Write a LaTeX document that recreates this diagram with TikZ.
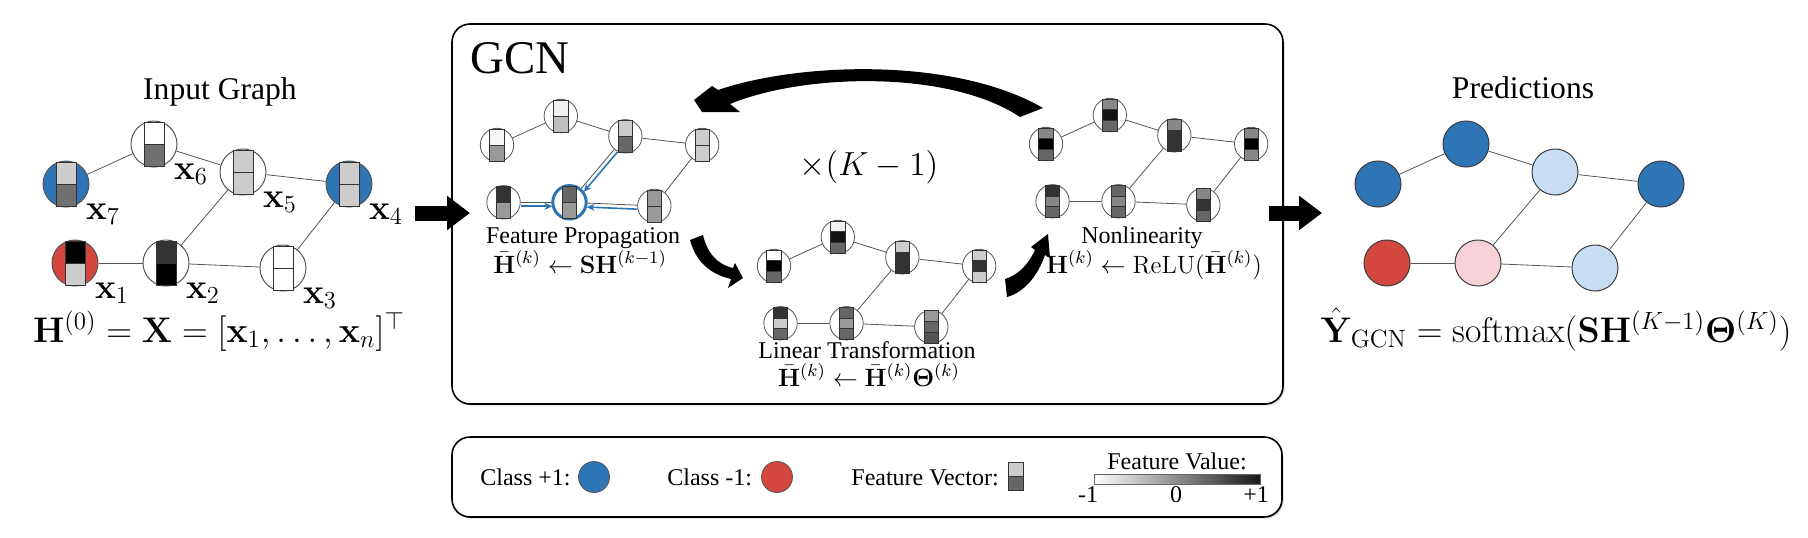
\RequirePackage{fix-cm}
\documentclass[tikz,border=0pt]{standalone}
\usepackage{amsmath}
\usepackage[no-math]{fontspec}
\setmainfont{Liberation Serif}
\definecolor{gcnBlue}{HTML}{2E75B6}
\definecolor{gcnRed}{HTML}{D3473E}
\definecolor{gcnLightBlue}{HTML}{C6DDF3}
\definecolor{gcnPink}{HTML}{F7D1D7}
\definecolor{gcnGrey}{HTML}{555555}
\usetikzlibrary{arrows.meta, calc, shadows}
\tikzset{
    panel/.style={rectangle, draw=black, line width=0.8pt, rounded corners=9pt, fill=white, drop shadow={opacity=0.3, shadow xshift=0.8pt, shadow yshift=-0.8pt}},
    graph node/.style={circle, draw=gcnGrey, line width=0.5pt, inner sep=0pt, minimum size=23pt},
    small node/.style={graph node, line width=0.4pt, minimum size=16.7pt},
    pred node/.style={graph node, draw=gcnGrey!70!black},
    focus ring/.style={circle, draw=gcnBlue, line width=1.5pt, inner sep=0pt, minimum size=16.7pt},
    legend dot/.style={circle, draw=gcnGrey, line width=0.4pt, inner sep=0pt, minimum size=15.5pt},
    edge line/.style={draw=gcnGrey, line width=0.4pt},
    feat cell/.style={draw=black!80, line width=0.4pt},
    prop arrow/.style={-{Stealth[length=4pt, width=3.5pt]}, line width=0.8pt, gcnBlue},
    block arrow/.style={-{Triangle[length=11.5pt, width=16.5pt]}, line width=7.5pt},
    swoosh/.style={fill=black},
    title text/.style={font=\fontsize{15.8}{19}\selectfont, anchor=base, inner sep=0pt},
    step text/.style={font=\fontsize{12}{14}\selectfont, anchor=base, inner sep=0pt},
    step eq/.style={font=\fontsize{12.5}{15}\selectfont, anchor=base, inner sep=0pt},
    main eq/.style={font=\fontsize{17.8}{21}\selectfont, anchor=base, inner sep=0pt},
    x label/.style={font=\fontsize{17.5}{21}\selectfont, anchor=north west, inner sep=1.5pt},
    legend text/.style={font=\fontsize{12}{14}\selectfont, inner sep=0pt},
}

% one feature vector: centre, cell width, cell height, number of cells, grey levels
\newcommand{\fvec}[5]{%
    \edef\cells{#5}%
    \foreach \g [count=\i] in \cells
        \draw[feat cell, fill=black!\g] ($(#1)+(-#2/2,{(\i-1-#4/2)*#3})$) rectangle ++(#2,#3);
}
% the seven nodes of the graph: prefix, style, fills of nodes 7,6,5,4,1,2,3
\newcommand{\graphnodes}[9]{%
    \node[#2, fill=#3] (#17) at (0,0) {};
    \node[#2, fill=#4] (#16) at (88,-40) {};
    \node[#2, fill=#5] (#15) at (177,-12) {};
    \node[#2, fill=#6] (#14) at (283,0) {};
    \node[#2, fill=#7] (#11) at (9,79) {};
    \node[#2, fill=#8] (#12) at (100,79) {};
    \node[#2, fill=#9] (#13) at (217,84) {};
}
\newcommand{\graphedges}[1]{%
    \foreach \u/\v in {7/6,6/5,5/4,1/2,2/3,2/5,3/4}
        \draw[edge line] (#1\u) -- (#1\v);
}

\begin{document}
\begin{tikzpicture}[x=0.5pt, y=-0.5pt]
    \useasboundingbox (0,0) rectangle (1808,537);

    % panels
    \node[panel, minimum width=415.5pt, minimum height=190pt] (gcn) at (867.5,214) {};
    \node[panel, minimum width=415pt, minimum height=40pt] (legend) at (867,477) {};
    \node[font=\fontsize{23.4}{28}\selectfont, anchor=base west, inner sep=0pt] (gcn title) at (470,73) {GCN};

    % input graph
    \node[title text] (in title) at (220,99) {Input Graph};
    \begin{scope}[shift={(66,184)}]
        \graphnodes{in}{graph node}{gcnBlue}{white}{white}{gcnBlue}{gcnRed}{white}{white}
    \end{scope}
    \graphedges{in}
    \foreach \n/\v in {7/{20,56},6/{0,56},5/{20,20},4/{20,20},1/{100,20},2/{80,100},3/{0,0}}
        {\fvec{in\n}{20}{22}{2}{\v}}
    \foreach \n in {1,...,7}
        \node[x label] (in label\n) at (in\n.south east) {$\mathbf{x}_{\n}$};
    \node[main eq] (in eq) at (219,342) {$\mathbf{H}^{(0)}=\mathbf{X}=[\mathbf{x}_1,\ldots,\mathbf{x}_n]^\top$};

    % feature propagation
    \begin{scope}[shift={(497,145)}, scale=0.725]
        \graphnodes{pa}{small node}{white}{white}{white}{white}{white}{white}{white}
    \end{scope}
    \graphedges{pa}
    \node[focus ring] (pa focus) at (pa2) {};
    \draw[prop arrow, transform canvas={yshift=-2pt}] (pa1) -- (pa2);
    \draw[prop arrow, transform canvas={yshift=-2pt}] (pa3) -- (pa2);
    \draw[prop arrow, transform canvas={xshift=1.6pt, yshift=-1.3pt}] (pa5) -- (pa2);
    \foreach \n/\v in {7/{3,40},6/{6,25},5/{20,60},4/{20,20},1/{80,40},2/{60,40},3/{40,40}}
        {\fvec{pa\n}{14.5}{16}{2}{\v}}
    \node[step text] (pa text) at (583,243) {Feature Propagation};
    \node[step eq] (pa eq) at (580,273) {$\bar{\mathbf{H}}^{(k)}\leftarrow\mathbf{S}\mathbf{H}^{(k-1)}$};

    % linear transformation
    \begin{scope}[shift={(774,266)}, scale=0.725]
        \graphnodes{lt}{small node}{white}{white}{white}{white}{white}{white}{white}
    \end{scope}
    \graphedges{lt}
    \foreach \n/\v in {7/{0,100,60},6/{6,93,60},5/{20,80,80},4/{20,80,20},1/{80,20,60},2/{60,40,60},3/{40,60,67}}
        {\fvec{lt\n}{14.5}{10.7}{3}{\v}}
    \node[step text] (lt text) at (867,358) {Linear Transformation};
    \node[step eq] (lt eq) at (869,386) {$\bar{\mathbf{H}}^{(k)}\leftarrow\bar{\mathbf{H}}^{(k)}\mathbf{\Theta}^{(k)}$};

    % nonlinearity
    \begin{scope}[shift={(1046,144)}, scale=0.725]
        \graphnodes{nl}{small node}{white}{white}{white}{white}{white}{white}{white}
    \end{scope}
    \graphedges{nl}
    \foreach \n/\v in {7/{47,100,60},6/{47,93,60},5/{47,80,80},4/{47,100,47},1/{80,47,60},2/{60,47,60},3/{47,80,60}}
        {\fvec{nl\n}{14.5}{10.7}{3}{\v}}
    \node[step text] (nl text) at (1142,243) {Nonlinearity};
    \node[step eq] (nl eq) at (1154,273) {$\mathbf{H}^{(k)}\leftarrow\mathrm{ReLU}(\bar{\mathbf{H}}^{(k)})$};

    % curved arrows
    \coordinate (loop tail) at (1043,108);
    \coordinate (loop tip) at (694,100);
    \fill[swoosh] (loop tail) .. controls (955,57) and (800,62) .. (718,90) -- (712,86) -- (loop tip)
        -- (702,112) -- (740,112) -- (730,104) .. controls (805,73) and (950,70) .. (1020,117) -- cycle;
    \node[font=\fontsize{16.7}{20}\selectfont, anchor=base, inner sep=0pt] (repeat) at (869,175) {$\times(K-1)$};
    \coordinate (lt tail) at (690,240);
    \coordinate (lt tip) at (743,278);
    \fill[swoosh] (lt tail) .. controls (696,262) and (710,274) .. (731,279) -- (728,288) -- (lt tip)
        -- (735,263) -- (733,268) .. controls (716,264) and (707,252) .. (703,235) -- cycle;
    \coordinate (nl tail) at (1005,279);
    \coordinate (nl tip) at (1048,234);
    \fill[swoosh] (nl tail) .. controls (1018,275) and (1028,265) .. (1035,250) -- (1031,247) -- (nl tip)
        -- (1050,258) -- (1045,255) .. controls (1038,275) and (1025,292) .. (1007,297) -- cycle;

    % block arrows
    \coordinate (gcn in) at (415,213);
    \coordinate (gcn in tip) at (470,213);
    \draw[block arrow] (gcn in) -- (gcn in tip);
    \coordinate (gcn out) at (1269,213);
    \coordinate (gcn out tip) at (1322,213);
    \draw[block arrow] (gcn out) -- (gcn out tip);

    % predictions
    \node[title text] (pr title) at (1523,98) {Predictions};
    \begin{scope}[shift={(1378,184)}]
        \graphnodes{pr}{pred node}{gcnBlue}{gcnBlue}{gcnLightBlue}{gcnBlue}{gcnRed}{gcnPink}{gcnLightBlue}
    \end{scope}
    \graphedges{pr}
    \node[main eq] (pr eq) at (1556,342) {$\hat{\mathbf{Y}}_{\mathrm{GCN}}=\mathrm{softmax}(\mathbf{S}\mathbf{H}^{(K-1)}\mathbf{\Theta}^{(K)})$};

    % legend
    \node[legend text, anchor=base west] (pos label) at (480,485) {Class +1:};
    \node[legend dot, fill=gcnBlue] (pos dot) at (594,477) {};
    \node[legend text, anchor=base west] (neg label) at (667,485) {Class -1:};
    \node[legend dot, fill=gcnRed] (neg dot) at (777,477) {};
    \node[legend text, anchor=base west] (vec label) at (851,485) {Feature Vector:};
    \coordinate (vec icon) at (1016,476);
    \fvec{vec icon}{15}{14}{2}{20,60}
    \node[legend text, anchor=base] (value label) at (1177,469) {Feature Value:};
    \shade[left color=white, right color=black!90] (1094,474) rectangle (1260,484);
    \draw[black!60, line width=0.3pt] (1094,474) rectangle (1260,484);
    \node[legend text, anchor=base] (value min) at (1088,502) {-1};
    \node[legend text, anchor=base] (value mid) at (1176,502) {0};
    \node[legend text, anchor=base] (value max) at (1256,502) {+1};
\end{tikzpicture}
\end{document}
